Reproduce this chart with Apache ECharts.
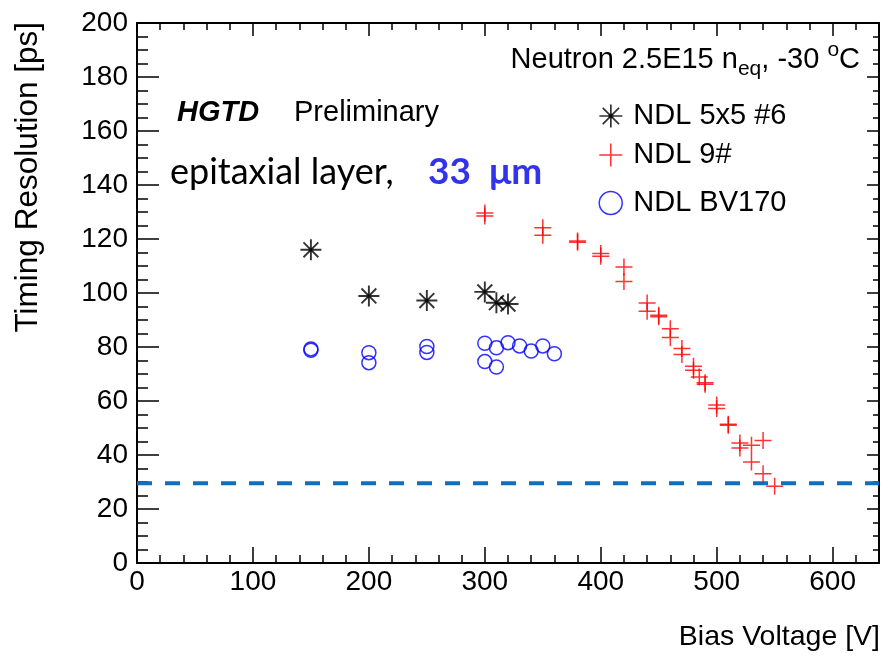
<!DOCTYPE html>
<html>
<head>
<meta charset="utf-8">
<script src="https://cdn.jsdelivr.net/npm/echarts@6/dist/echarts.min.js"></script>
<style>html,body{margin:0;padding:0;background:#fff}#c{width:891px;height:656px}</style>
</head>
<body>
<div id="c"></div>
<script>
// ---- data ----
const xTicks = [0, 100, 200, 300, 400, 500, 600];
const yTicks = [0, 20, 40, 60, 80, 100, 120, 140, 160, 180, 200];
const starV = [150, 200, 250, 300, 310, 320];
const starT = [116.0, 98.9, 97.2, 100.4, 96.4, 95.9];
const redV = [300, 300, 350, 350, 380, 380, 400, 400, 420, 420, 440, 440, 450, 450, 460, 460, 470, 470, 480, 480, 485, 490, 490, 500, 500, 510, 510, 520, 520, 530, 530, 540, 540, 550];
const redT = [129.6, 128.5, 124.2, 121.4, 119.3, 118.8, 114.6, 113.6, 109.6, 104.3, 96.3, 93.2, 91.8, 91.2, 86.8, 83.5, 79.4, 77.2, 72.9, 71.4, 68.9, 66.8, 66.2, 58.5, 57.2, 51.4, 51.0, 44.4, 42.6, 43.6, 37.4, 45.4, 33.1, 28.4];
const circV = [150, 150, 200, 200, 250, 250, 300, 300, 310, 310, 320, 330, 340, 350, 360];
const circT = [79.3, 78.8, 77.9, 74.2, 80.2, 78.0, 81.4, 74.6, 79.7, 72.6, 81.6, 80.4, 78.5, 80.4, 77.5];
const targetV = [0, 640];
const targetT = 29.5;
const seriesNames = ['NDL 5x5 #6', 'NDL 9#', 'NDL BV170'];

const FF = '"Liberation Sans", Arial, Helvetica, sans-serif';
const STAR = 'path://M0,-10L0,10M-10,0L10,0M-7.07,-7.07L7.07,7.07M-7.07,7.07L7.07,-7.07M-1.5,-1.5L1.5,-1.5L1.5,1.5L-1.5,1.5Z';
const PLUS = 'path://M0,-8L0,8M-8,0L8,0';
const zip = (a, b) => a.map((v, i) => [v, b[i]]);

const chart = echarts.init(document.getElementById('c'), null, {renderer: 'canvas'});
const black = {color: '#000', width: 1.5};
const axisBase = (extra) => Object.assign({
  type: 'value', gridIndex: 0, splitLine: {show: false},
  axisLine: {show: true, onZero: false, lineStyle: {color: '#000', width: 2}},
  axisLabel: {show: false}
}, extra);

function legendFor(name, icon, top, itemStyle) {
  return {
    show: true, left: 598.5, top: top, padding: 0, orient: 'vertical',
    selectedMode: false, itemWidth: 23, itemHeight: 23,
    data: [{name: name, icon: icon}],
    itemStyle: itemStyle,
    textStyle: {fontSize: 29, color: '#000', fontFamily: FF, padding: [0, 0, 0, 6]}
  };
}

const option = {
  animation: false,
  backgroundColor: '#fff',
  grid: {left: 137, top: 23, right: 12, bottom: 93},
  xAxis: [
    axisBase({min: 0, max: 640, interval: 100, position: 'bottom',
      axisTick: {show: true, inside: true, length: 16, lineStyle: black},
      axisLabel: {show: true, fontSize: 28, color: '#000', fontFamily: FF, margin: 5, showMaxLabel: false,
        formatter: v => xTicks.indexOf(v) >= 0 ? String(v) : ''}}),
    axisBase({min: 0, max: 640, interval: 20, position: 'bottom', axisLine: {show: false, onZero: false},
      axisTick: {show: true, inside: true, length: 8, lineStyle: black}}),
    axisBase({min: 0, max: 640, interval: 100, position: 'top',
      axisTick: {show: true, inside: true, length: 13, lineStyle: black}}),
    axisBase({min: 0, max: 640, interval: 20, position: 'top', axisLine: {show: false, onZero: false},
      axisTick: {show: true, inside: true, length: 7, lineStyle: black}})
  ],
  yAxis: [
    axisBase({min: 0, max: 200, interval: 20, position: 'left',
      axisTick: {show: true, inside: true, length: 22, lineStyle: black},
      minorTick: {show: true, splitNumber: 4, length: 11, lineStyle: black},
      axisLabel: {show: true, fontSize: 28, color: '#000', fontFamily: FF, margin: 9,
        formatter: v => yTicks.indexOf(v) >= 0 ? String(v) : ''}}),
    axisBase({min: 0, max: 200, interval: 20, position: 'right',
      axisTick: {show: true, inside: true, length: 12, lineStyle: black},
      minorTick: {show: true, splitNumber: 4, length: 6, lineStyle: black}})
  ],
  legend: [
    legendFor(seriesNames[0], STAR, 101.5, {color: '#000', borderColor: '#000', borderWidth: 1.7}),
    legendFor(seriesNames[1], PLUS, 140.5, {color: '#ff0000', borderColor: '#ff0000', borderWidth: 1.5}),
    legendFor(seriesNames[2], 'circle', 188.5, {color: 'rgba(0,0,0,0)', borderColor: '#0000ff', borderWidth: 1.5})
  ],
  series: [
    {type: 'line', name: 'target', xAxisIndex: 0, yAxisIndex: 0, silent: true, symbol: 'none',
      data: targetV.map(v => [v, targetT]),
      lineStyle: {color: '#0b6fc2', width: 4, type: [15, 13]}, z: 1},
    {type: 'scatter', name: seriesNames[0], xAxisIndex: 0, yAxisIndex: 0, symbol: STAR, symbolSize: 21,
      data: zip(starV, starT), itemStyle: {color: '#000', borderColor: '#000', borderWidth: 1.9}, z: 3},
    {type: 'scatter', name: seriesNames[1], xAxisIndex: 0, yAxisIndex: 0, symbol: PLUS, symbolSize: 17,
      data: zip(redV, redT), itemStyle: {color: '#ff0000', borderColor: '#ff0000', borderWidth: 1.5}, z: 3},
    {type: 'scatter', name: seriesNames[2], xAxisIndex: 0, yAxisIndex: 0, symbol: 'circle', symbolSize: 14,
      data: zip(circV, circT), itemStyle: {color: 'rgba(0,0,0,0)', borderColor: '#0000ff', borderWidth: 1.5}, z: 3}
  ],
  graphic: [
    {type: 'text', x: 860, y: 60, style: {
      text: '{a|Neutron 2.5E15 n}{b|eq}{a|, -30 }{c|o}{a|C}', align: 'right', verticalAlign: 'middle',
      rich: {
        a: {fontSize: 29, fontFamily: FF, color: '#000', lineHeight: 40},
        b: {fontSize: 21, fontFamily: FF, color: '#000', lineHeight: 22, verticalAlign: 'bottom'},
        c: {fontSize: 21, fontFamily: FF, color: '#000', lineHeight: 22, verticalAlign: 'top'}
      }}},
    {type: 'text', x: 177, y: 113, style: {text: 'HGTD', fill: '#000', font: 'italic bold 29px ' + FF, align: 'left', verticalAlign: 'middle'}},
    {type: 'text', x: 294, y: 113, style: {text: 'Preliminary', fill: '#000', font: '29px ' + FF, align: 'left', verticalAlign: 'middle'}},
    {type: 'text', x: 170, y: 172, style: {text: 'epitaxial layer,', fill: '#000', font: '36px Lato, "Open Sans", sans-serif', align: 'left', verticalAlign: 'middle'}},
    {type: 'text', x: 428, y: 172, style: {text: '33', fill: '#3333ee', font: 'bold 37px Lato, "Open Sans", sans-serif', align: 'left', verticalAlign: 'middle'}},
    {type: 'text', x: 489, y: 172, style: {text: 'μm', fill: '#3333ee', font: 'bold 37px Lato, "Open Sans", sans-serif', align: 'left', verticalAlign: 'middle'}},
    {type: 'text', x: 28, y: 22, rotation: Math.PI / 2, style: {text: 'Timing Resolution [ps]', fill: '#000', font: '31.5px ' + FF, align: 'right', verticalAlign: 'middle'}},
    {type: 'text', x: 880, y: 637, style: {text: 'Bias Voltage [V]', fill: '#000', font: '28.5px ' + FF, align: 'right', verticalAlign: 'middle'}}
  ]
};
chart.setOption(option);
</script>
</body>
</html>
